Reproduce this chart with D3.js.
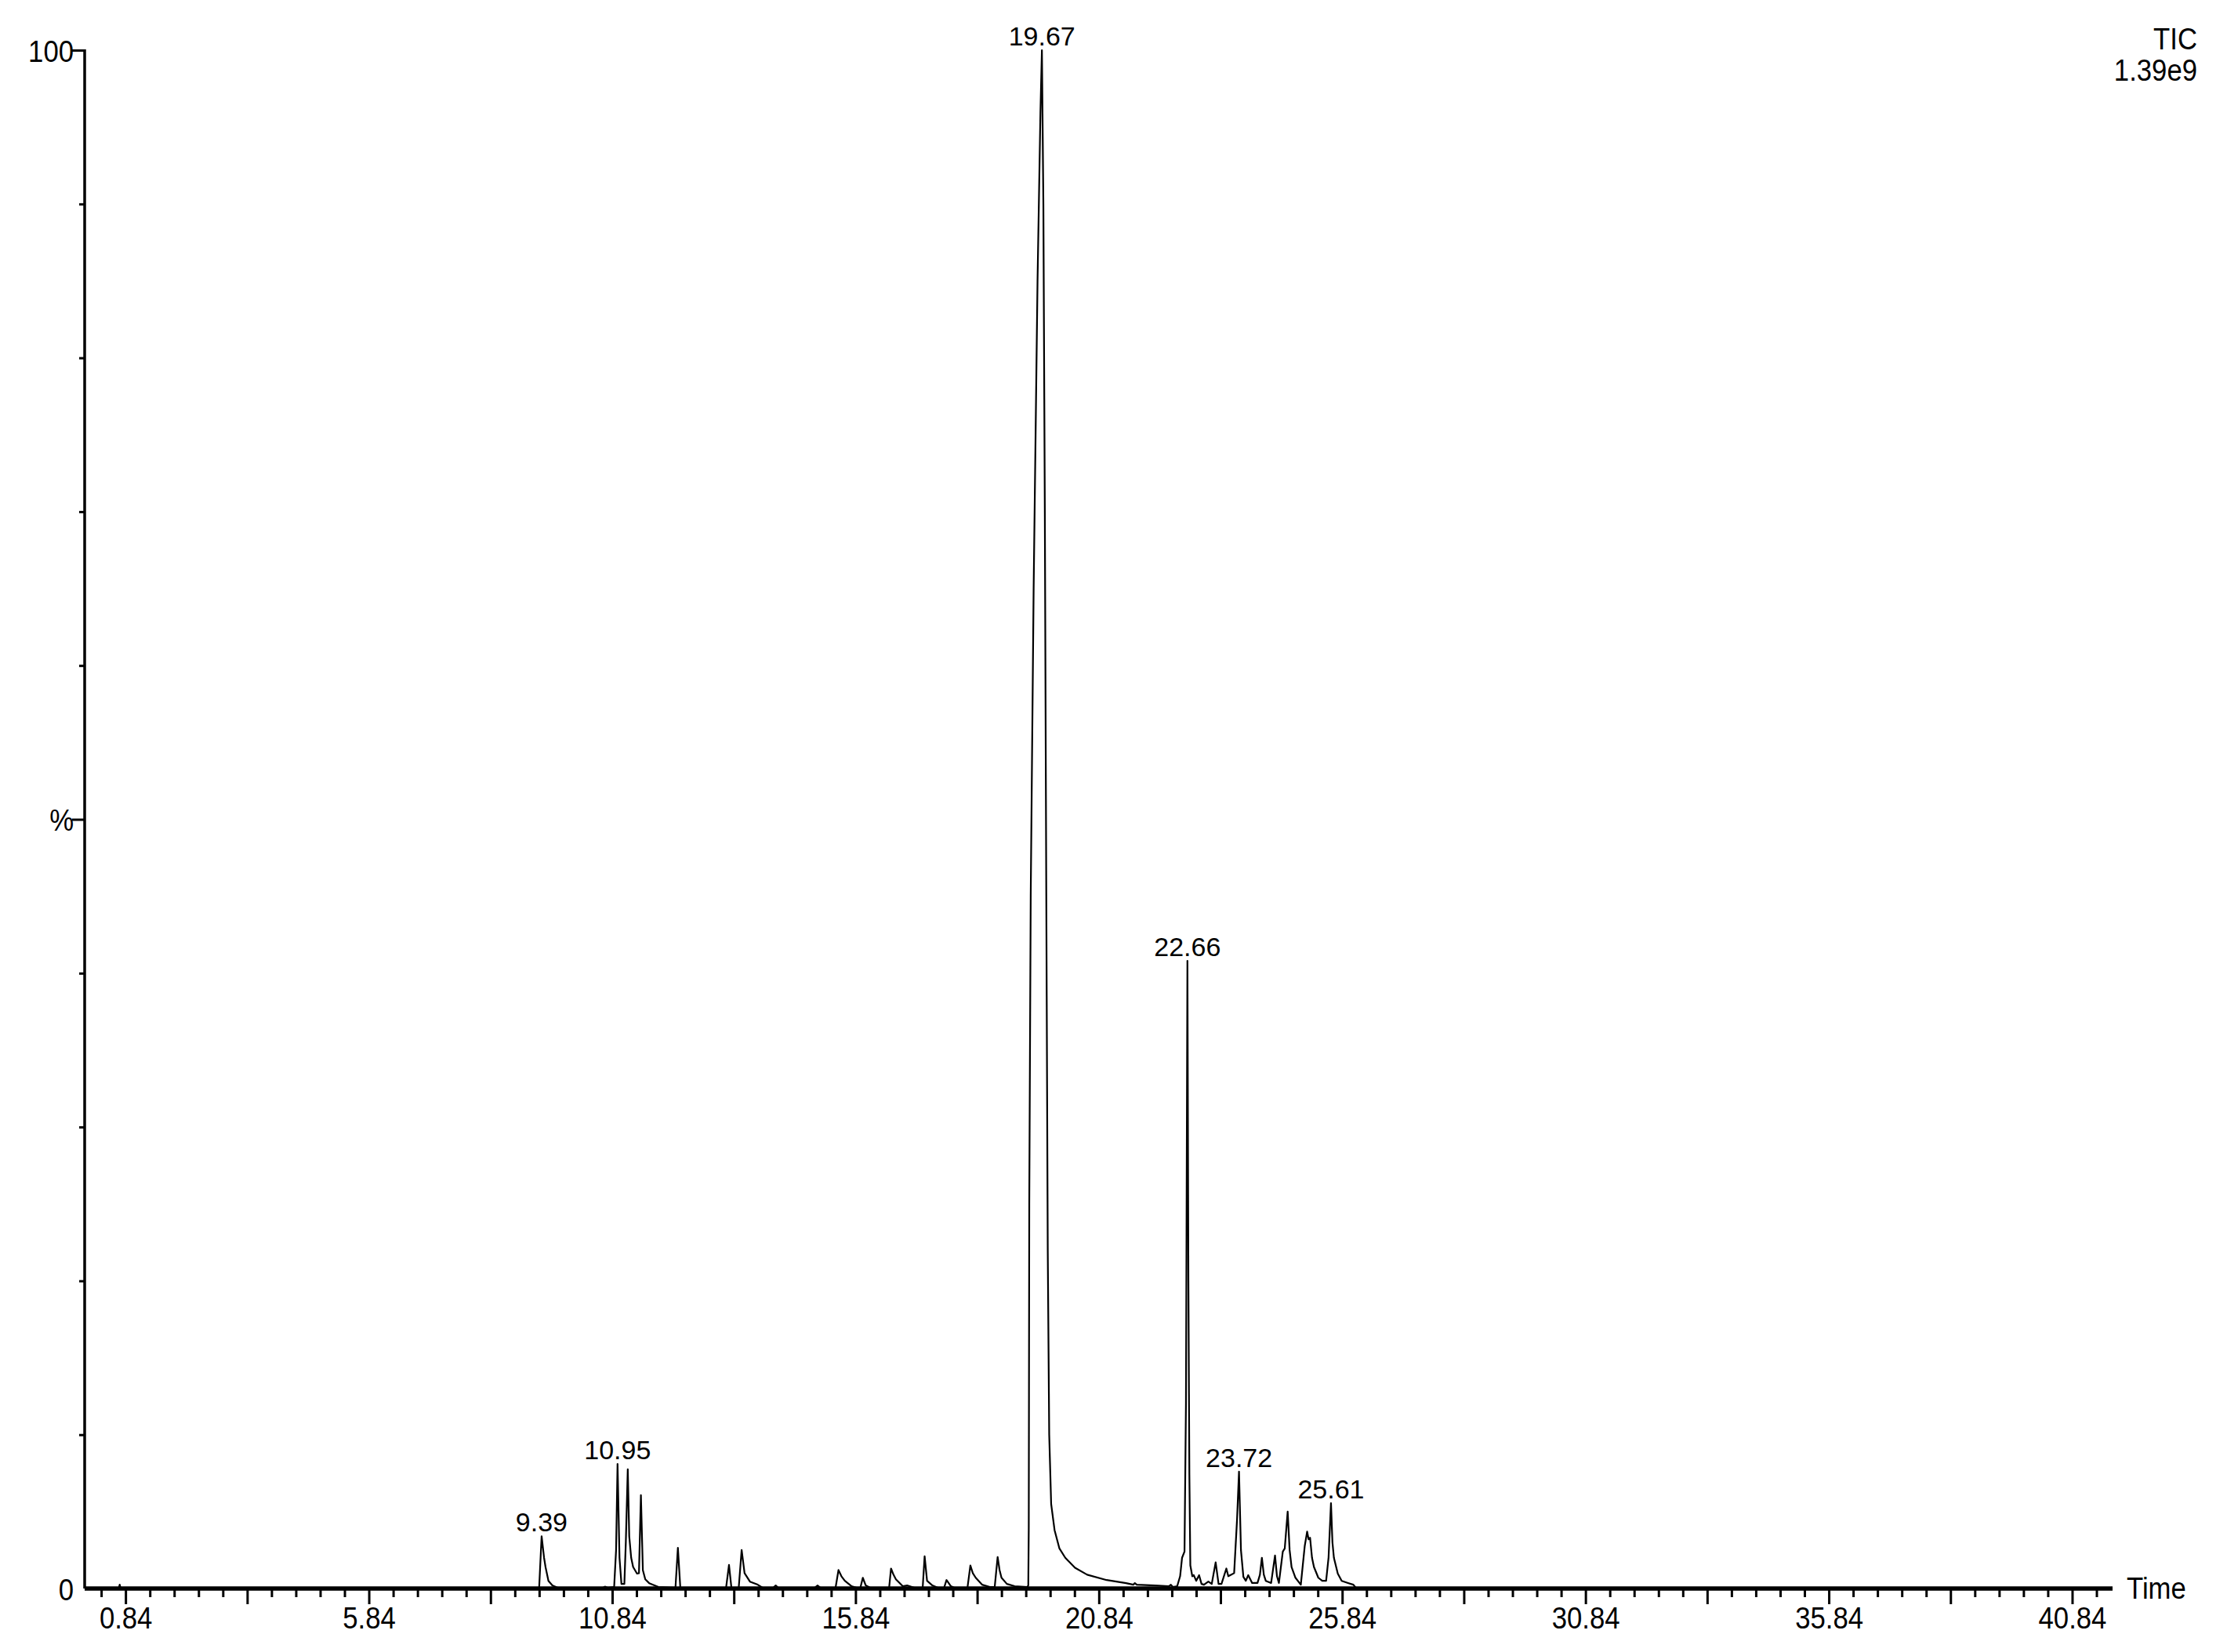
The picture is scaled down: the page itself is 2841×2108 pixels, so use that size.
<!DOCTYPE html>
<html><head><meta charset="utf-8">
<script src="https://cdn.jsdelivr.net/npm/d3@7"></script>
<style>
html,body{margin:0;padding:0;background:#fff;}
svg{display:block;}
text{font-family:"Liberation Sans",Arial,Helvetica,sans-serif;fill:#000;}
</style>
</head><body>
<svg id="chart" width="2841" height="2108"></svg>
<script>
// ---- Data (time in min, intensity in %) ----
const traceTime = [
  0, 0.70, 0.72, 0.74,
  9.30, 9.34, 9.39, 9.44, 9.47, 9.53, 9.61, 9.72,
  10.65, 10.69, 10.75,
  10.88, 10.92, 10.95, 10.99, 11.03, 11.09, 11.12, 11.16, 11.19, 11.23, 11.27, 11.35, 11.39, 11.43, 11.47, 11.52, 11.60, 11.67, 11.79,
  12.14, 12.19, 12.24,
  13.18, 13.24, 13.29,
  13.44, 13.50, 13.56, 13.67, 13.83, 13.93,
  14.15, 14.20, 14.25,
  15.00, 15.06, 15.12,
  15.43, 15.49, 15.55, 15.62, 15.76, 15.86,
  15.94, 15.99, 16.05, 16.14,
  16.53, 16.57, 16.62, 16.67, 16.81, 16.90, 17.05,
  17.22, 17.26, 17.31, 17.42, 17.53,
  17.66, 17.71, 17.80, 17.87,
  18.14, 18.20, 18.25, 18.31, 18.44, 18.60,
  18.70, 18.76, 18.80, 18.84, 18.95, 19.11, 19.37,
  19.39, 19.40, 19.41, 19.44, 19.50, 19.58, 19.64, 19.67, 19.70, 19.73, 19.76, 19.79, 19.82, 19.86, 19.93, 20.03, 20.15, 20.35, 20.60, 21.00, 21.40, 21.55, 21.58, 21.62, 22.00, 22.28, 22.32, 22.36, 22.45,
  22.51, 22.55, 22.60, 22.63, 22.66, 22.68, 22.70, 22.72, 22.76, 22.79, 22.84, 22.90, 22.95, 23.00, 23.09, 23.16, 23.24, 23.30, 23.36, 23.46, 23.50, 23.54, 23.62, 23.68, 23.72, 23.76, 23.81, 23.86, 23.91, 23.99,
  24.10, 24.15, 24.19, 24.23, 24.27, 24.38, 24.46, 24.50, 24.54, 24.62, 24.66, 24.72, 24.76, 24.80, 24.88, 24.99,
  25.07, 25.12, 25.15, 25.18, 25.22, 25.26, 25.35, 25.43, 25.51, 25.56, 25.61, 25.64, 25.67, 25.75, 25.83, 25.96, 26.07, 26.12,
  26.40, 41.67
];
const traceIntensity = [
  0, 0, 0.25, 0,
  0, 0.1, 3.4, 2.0, 1.4, 0.5, 0.2, 0.05,
  0.05, 0.12, 0.05,
  0.1, 2.5, 8.1, 2.0, 0.3, 0.3, 3.0, 7.75, 3.4, 2.0, 1.4, 0.97, 1.0, 6.07, 1.2, 0.6, 0.35, 0.25, 0.1,
  0.05, 2.65, 0.05,
  0.05, 1.53, 0.05,
  0.05, 2.5, 1.0, 0.45, 0.25, 0.05,
  0.05, 0.2, 0.05,
  0.05, 0.2, 0.05,
  0.05, 1.2, 0.8, 0.5, 0.15, 0.05,
  0.05, 0.7, 0.2, 0.05,
  0.05, 1.3, 0.9, 0.6, 0.15, 0.2, 0.05,
  0.05, 2.1, 0.5, 0.2, 0.05,
  0.05, 0.55, 0.15, 0.05,
  0.05, 1.5, 1.0, 0.7, 0.25, 0.1,
  0.1, 2.05, 1.2, 0.7, 0.3, 0.15, 0.1,
  0.2, 4, 25, 45, 65, 85, 96, 100, 90, 70, 45, 22, 10, 5.5, 3.8, 2.6, 2.0, 1.35, 0.9, 0.55, 0.35, 0.25, 0.35, 0.25, 0.2, 0.15, 0.25, 0.1, 0.15,
  0.8, 2.0, 2.4, 12, 40.8, 20, 7.4, 1.5, 0.8, 0.87, 0.5, 0.87, 0.3, 0.25, 0.45, 0.3, 1.7, 0.3, 0.3, 1.3, 0.8, 0.87, 1.0, 4.5, 7.6, 2.5, 0.76, 0.5, 0.87, 0.36,
  0.36, 0.9, 2.0, 0.9, 0.5, 0.36, 2.15, 0.8, 0.36, 2.4, 2.6, 5.0, 2.5, 1.4, 0.7, 0.25,
  2.75, 3.7, 3.2, 3.3, 2.0, 1.4, 0.7, 0.5, 0.5, 2.0, 5.55, 3.0, 2.0, 0.97, 0.5, 0.36, 0.25, 0.05,
  0.05, 0
];
const peakTimes   = [9.39, 10.95, 19.67, 22.66, 23.72, 25.61];
const peakHeights = [3.4, 8.1, 100, 40.8, 7.6, 5.55];
const peakLabels  = ["9.39", "10.95", "19.67", "22.66", "23.72", "25.61"];
const xMajorTicks = [0.84, 5.84, 10.84, 15.84, 20.84, 25.84, 30.84, 35.84, 40.84];
const xTickLabels = ["0.84", "5.84", "10.84", "15.84", "20.84", "25.84", "30.84", "35.84", "40.84"];
const yMajorTicks = [0, 50, 100];
const yTickLabels = ["0", "%", "100"];
const traceName = "TIC";
const traceScale = "1.39e9";
const xTitle = "Time";

// ---- Layout ----
const svg = d3.select("#chart");
svg.append("rect").attr("width", 2841).attr("height", 2108).attr("fill", "#fff");

const x = d3.scaleLinear().domain([0, 41.67]).range([108, 2695]);
const y = d3.scaleLinear().domain([0, 100]).range([2027, 64]);

const axisFont = 39, condense = "scale(0.89,1)";

// minor / medium x ticks every 0.5 min
const allX = d3.range(0, 83).map(i => +(0.34 + 0.5 * i).toFixed(2));
const minorX = allX.filter((d, i) => i % 5 !== 1);
const medX = allX.filter((d, i) => i % 10 === 6);

const gx = svg.append("g").attr("transform", `translate(0,${y(0)})`);
gx.append("g").call(d3.axisBottom(x).tickValues(minorX).tickSize(11).tickSizeOuter(0).tickFormat(""))
  .call(g => g.select(".domain").remove());
gx.append("g").call(d3.axisBottom(x).tickValues(medX).tickSize(20).tickSizeOuter(0).tickFormat(""))
  .call(g => g.select(".domain").remove());
const gxMaj = gx.append("g").call(d3.axisBottom(x).tickValues(xMajorTicks).tickSize(20).tickSizeOuter(0)
    .tickFormat((d, i) => xTickLabels[i]))
  .call(g => g.select(".domain").remove());
gxMaj.selectAll("text").attr("y", 51).attr("dy", null).attr("transform", condense)
  .style("font-size", axisFont + "px").attr("fill", "#000");
gx.selectAll(".tick line").attr("stroke", "#000").attr("stroke-width", 3);
gx.selectAll(".tick text").attr("font-family", null);

// y ticks
const minorY = d3.range(10, 100, 10).filter(d => d !== 50);
const gy = svg.append("g").attr("transform", `translate(${x(0)},0)`);
gy.append("g").call(d3.axisLeft(y).tickValues(minorY).tickSize(7).tickSizeOuter(0).tickFormat(""))
  .call(g => g.select(".domain").remove());
const gyMaj = gy.append("g").call(d3.axisLeft(y).tickValues(yMajorTicks).tickSize(16).tickSizeOuter(0)
    .tickFormat((d, i) => yTickLabels[i]))
  .call(g => g.select(".domain").remove());
gyMaj.selectAll(".tick").filter(d => d === 0).select("line").remove();
gyMaj.selectAll("text").attr("x", 0).attr("dy", "0.36em")
  .attr("transform", "translate(-14,0) " + condense)
  .style("font-size", axisFont + "px").attr("fill", "#000");
gy.selectAll(".tick line").attr("stroke", "#000").attr("stroke-width", 3);
gy.selectAll(".tick text").attr("font-family", null);

// axis lines
svg.append("line").attr("x1", x(0)).attr("x2", x(0)).attr("y1", y(100) - 1).attr("y2", y(0))
  .attr("stroke", "#000").attr("stroke-width", 3.5);
svg.append("line").attr("x1", x(0)).attr("x2", x.range()[1]).attr("y1", y(0)).attr("y2", y(0))
  .attr("stroke", "#000").attr("stroke-width", 5.5);

// trace
const pts = traceTime.map((t, i) => [t, traceIntensity[i]]);
svg.append("path").datum(pts)
  .attr("d", d3.line().x(d => x(d[0])).y(d => y(d[1])))
  .attr("fill", "none").attr("stroke", "#000").attr("stroke-width", 2.2)
  .attr("stroke-linejoin", "round");

// peak labels
svg.append("g").selectAll("text").data(peakTimes).join("text")
  .attr("x", d => x(d)).attr("y", (d, i) => y(peakHeights[i]) - 6)
  .attr("text-anchor", "middle").style("font-size", "34px")
  .text((d, i) => peakLabels[i]);

// header text
svg.append("text").attr("transform", `translate(2803,63) ${condense}`).attr("text-anchor", "end")
  .style("font-size", axisFont + "px").text(traceName);
svg.append("text").attr("transform", `translate(2803,103) ${condense}`).attr("text-anchor", "end")
  .style("font-size", axisFont + "px").text(traceScale);
svg.append("text").attr("transform", `translate(2713,2040) ${condense}`).attr("text-anchor", "start")
  .style("font-size", axisFont + "px").text(xTitle);
</script>
</body></html>
